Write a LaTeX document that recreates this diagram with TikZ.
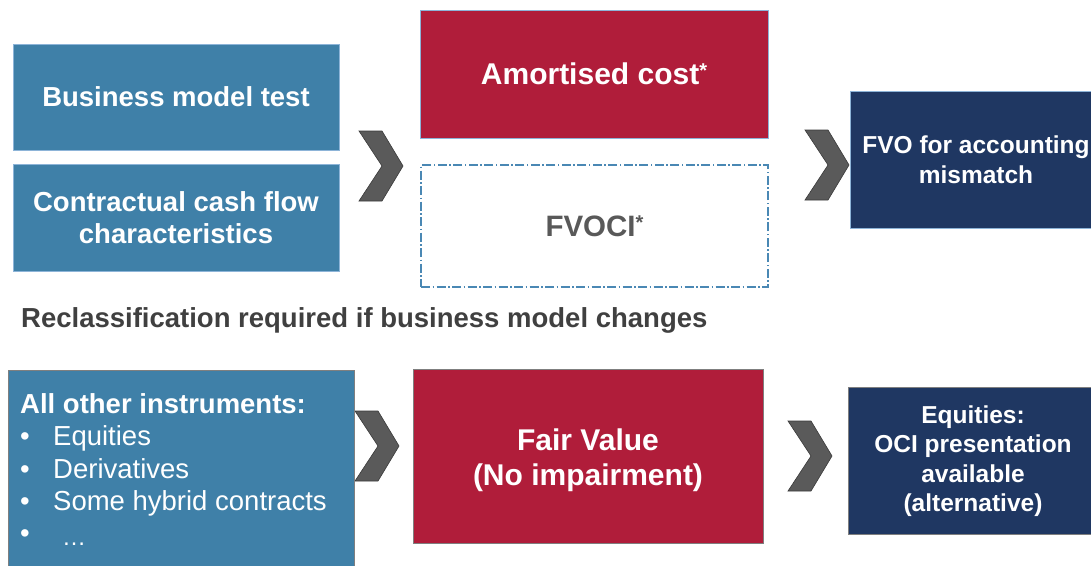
\documentclass[tikz,border=0pt]{standalone}
\usepackage{fontspec}
\setmainfont{Liberation Sans}
\definecolor{tealc}{HTML}{3F80A8}
\definecolor{redc}{HTML}{B01D3A}
\definecolor{navyc}{HTML}{1F3762}
\definecolor{edgeblue}{HTML}{8DB4D8}
\definecolor{edgegray}{HTML}{7F7F7F}
\definecolor{dashblue}{HTML}{4A88B4}
\definecolor{chevc}{HTML}{5A5A5A}
\definecolor{chevedge}{HTML}{3A3A3A}
\definecolor{graytext}{HTML}{595959}
\definecolor{darktext}{HTML}{404040}
\newcommand{\smallast}{\raisebox{7pt}{\fontsize{20}{20}\selectfont *}}
\begin{document}
\begin{tikzpicture}[x=1pt,y=-1pt]
\tikzset{
  box/.style={line width=0.8pt, align=center, inner sep=0pt, text=white, font=\bfseries},
  tealbox/.style={box, fill=tealc, draw=edgeblue, font=\bfseries\fontsize{27.5}{32}\selectfont},
  redbox/.style={box, fill=redc, draw=edgeblue, font=\bfseries\fontsize{30}{35}\selectfont},
  navybox/.style={box, fill=navyc, draw=edgeblue, font=\bfseries\fontsize{24.5}{29.5}\selectfont},
  graybord/.style={draw=edgegray},
  dashbox/.style={box, draw=dashblue, line width=1.1pt, dash pattern=on 9pt off 2.5pt on 1.5pt off 2.5pt, text=graytext, font=\bfseries\fontsize{29.5}{35}\selectfont},
  listtxt/.style={anchor=base west, inner sep=0pt, text=white, font=\fontsize{27.5}{32}\selectfont},
  chevron/.pic={\fill[chevc, draw=chevedge, line width=0.6pt] (0,-35) -- (23,-35) -- (44,0) -- (23,35) -- (0,35) -- (23,0) -- cycle;}
}
\useasboundingbox (0,0) rectangle (1091,565);
\fill[white] (0,0) rectangle (1091,565);

% top row
\node[tealbox, minimum width=326pt, minimum height=106pt] (bmt) at (176,97) {Business model test};
\node[tealbox, minimum width=326pt, minimum height=107pt] (ccf) at (176,217.5) {Contractual cash flow\\characteristics};
\node[redbox, minimum width=348pt, minimum height=128pt] (amc) at (594,74) {Amortised cost\smallast};
\node[dashbox, minimum width=347pt, minimum height=122pt] (fvoci) at (594.5,226) {FVOCI\smallast};
\node[navybox, minimum width=252pt, minimum height=137pt] (fvo) at (976,159.5) {FVO for accounting\\mismatch};

\pic at (359,166) {chevron};
\pic at (805,165) {chevron};

\node[anchor=base west, inner sep=0pt, text=darktext, font=\bfseries\fontsize{27.5}{32}\selectfont] (recl) at (21,327) {Reclassification required if business model changes};

% bottom row
\pic at (355,446) {chevron};
\node[box, fill=tealc, graybord, minimum width=346pt, minimum height=210pt, anchor=north west] (other) at (8,370) {};
\node[listtxt, font=\bfseries\fontsize{27.5}{32}\selectfont] (l0) at (20,413) {All other instruments:};
\node[listtxt] (b1) at (20,445) {•};
\node[listtxt] (t1) at (53,445) {Equities};
\node[listtxt] (b2) at (20,478) {•};
\node[listtxt] (t2) at (53,478) {Derivatives};
\node[listtxt] (b3) at (20,510) {•};
\node[listtxt] (t3) at (53,510) {Some hybrid contracts};
\node[listtxt] (b4) at (20,542) {•};
\node[listtxt, font=\fontsize{24}{28}\selectfont] (t4) at (62,545) {…};

\node[redbox, graybord, minimum width=350pt, minimum height=174pt] (fv) at (588,456) {};
\node[inner sep=0pt, align=center, text=white, font=\bfseries\fontsize{30}{35}\selectfont] (fvt) at (588,460) {Fair Value\\(No impairment)};
\pic at (788,456) {chevron};
\node[navybox, graybord, minimum width=250pt, minimum height=147pt] (eq) at (973,461) {Equities:\\OCI presentation\\available\\(alternative)};
\end{tikzpicture}
\end{document}
